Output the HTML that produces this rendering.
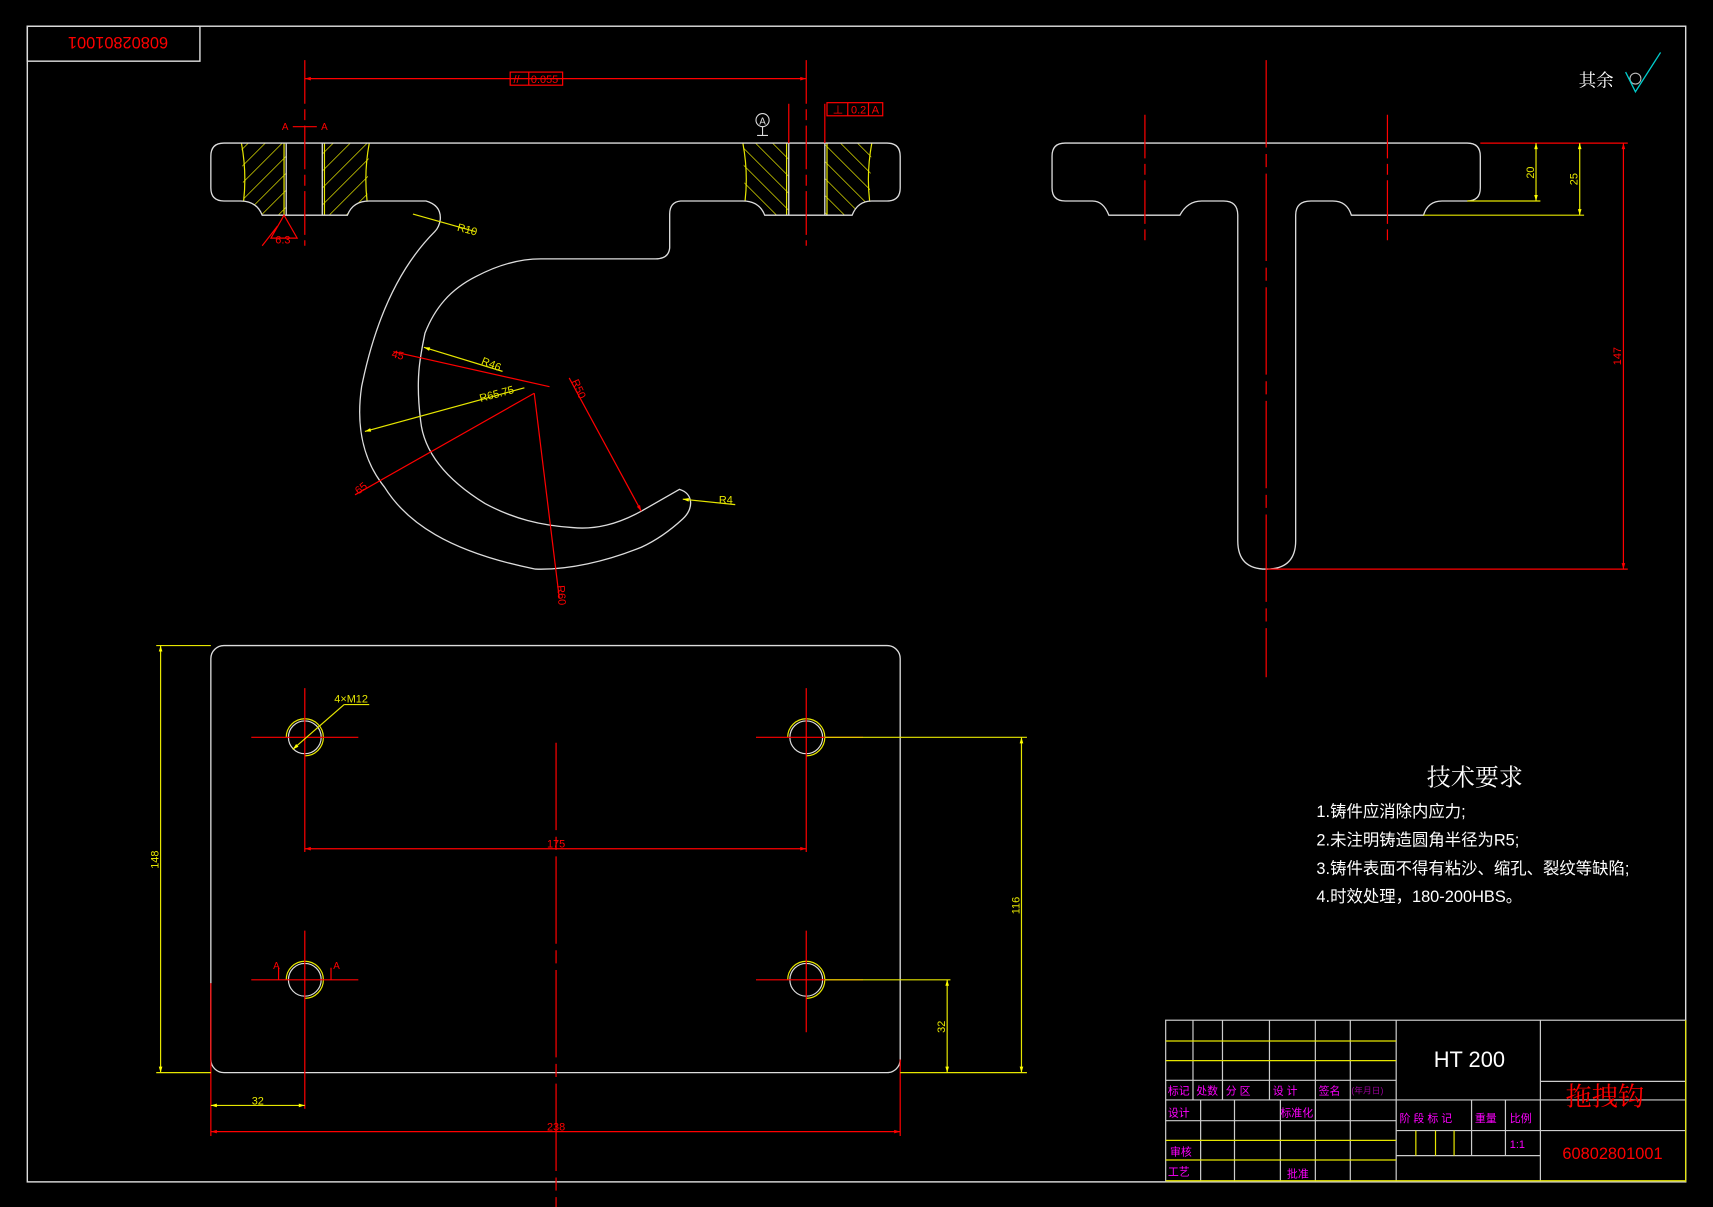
<!DOCTYPE html>
<html><head><meta charset="utf-8"><style>
html,body{margin:0;padding:0;background:#000;}
svg{display:block;}
text{font-family:"Liberation Sans","Noto Sans CJK SC",sans-serif;}
.cjk{font-family:"Noto Serif CJK SC","Noto Sans CJK SC",serif;}
</style></head><body>
<svg width="1713" height="1207" viewBox="0 0 1568 1105" preserveAspectRatio="none" xmlns="http://www.w3.org/2000/svg">
<defs>
<pattern id="h1" patternUnits="userSpaceOnUse" width="11" height="11" patternTransform="rotate(45)"><line x1="0" y1="0" x2="0" y2="11" stroke="#e6e600" stroke-width="1.3"/></pattern>
<pattern id="h2" patternUnits="userSpaceOnUse" width="11" height="11" patternTransform="rotate(-45)"><line x1="0" y1="0" x2="0" y2="11" stroke="#e6e600" stroke-width="1.3"/></pattern>
<marker id="ar" viewBox="0 0 10 10" refX="10" refY="5" markerWidth="7" markerHeight="5" orient="auto-start-reverse"><path d="M0,2 L10,5 L0,8z" fill="#f00"/></marker>
<marker id="ay" viewBox="0 0 10 10" refX="10" refY="5" markerWidth="7" markerHeight="5" orient="auto-start-reverse"><path d="M0,2 L10,5 L0,8z" fill="#ff0"/></marker>
</defs>
<rect width="1568" height="1105" fill="#000"/>
<!-- frame -->
<rect x="25" y="24" width="1518" height="1058" fill="none" stroke="#ddd" stroke-width="1.3"/>
<rect x="25" y="24" width="158" height="32" fill="none" stroke="#ddd" stroke-width="1.3"/>
<text x="108" y="46" fill="#f00" font-size="15" text-anchor="middle" font-family="Liberation Serif" transform="rotate(180 108 40)">60802801001</text>

<!-- TOP VIEW hatch -->
<path d="M221,131 L262,131 L262,197 L240,197 Q235,186 223,184 Z" fill="url(#h1)"/>
<path d="M295,131 L338,131 L336,184 Q323,186 318,197 L295,197 Z" fill="url(#h1)"/>
<path d="M680,131 L722,131 L722,197 L700,197 Q695,186 682,184 Z" fill="url(#h2)"/>
<path d="M755,131 L798,131 L796,184 Q785,186 780,197 L755,197 Z" fill="url(#h2)"/>
<g stroke="#e6e600" stroke-width="1.1" fill="none">
<path d="M221,131 Q226,158 223,184 M338,131 Q333,158 336,184 M680,131 Q685,158 682,184 M798,131 Q793,158 796,184"/>
<line x1="260" y1="131" x2="260" y2="197"/><line x1="297" y1="131" x2="297" y2="197"/>
<line x1="720" y1="131" x2="720" y2="197"/><line x1="757" y1="131" x2="757" y2="197"/>
</g>
<path d="M205,131 L812,131 Q824,131 824,143 L824,172 Q824,184 812,184 L798,184 Q785,184 780,197 L700,197 Q695,184 680,184 L623,184 Q613,185 613,196 L613,227 Q612,237 600,237 L495,237 C475,237 455,243 436,253 C412,265 398,282 389,305 C385,325 380,345 385,385 C388,415 410,440 444,461 C470,475 495,481 524,483 C545,485 565,480 587,468 L622,448 C635,452 635,466 625,475 C612,487 600,495 587,501 C555,514 520,522 490,521 C410,505 372,478 352,446 C335,425 325,395 331,354 C345,285 370,240 398,212 Q402,208 403,201 Q404,188 390,184 L338,184 Q323,184 318,197 L240,197 Q235,184 220,184 L205,184 Q193,184 193,172 L193,143 Q193,131 205,131 Z" fill="none" stroke="#ddd" stroke-width="1.2"/>
<path d="M262,131 L262,197 M295,131 L295,197 M722,131 L722,197 M755,131 L755,197" stroke="#ddd" stroke-width="1.2"/>
<!-- top view centerlines and dims -->
<g stroke="#f00" stroke-width="1.1" fill="none">
<line x1="279" y1="55" x2="279" y2="225" stroke-dasharray="40,5,10,5"/>
<line x1="738" y1="55" x2="738" y2="225" stroke-dasharray="40,5,10,5"/>
<line x1="722" y1="95" x2="722" y2="131"/><line x1="755" y1="95" x2="755" y2="131"/>
<line x1="279" y1="72" x2="738" y2="72" marker-start="url(#ar)" marker-end="url(#ar)"/>
<rect x="467" y="66" width="48" height="12"/><line x1="484" y1="66" x2="484" y2="78"/>
<rect x="757" y="94" width="51" height="12"/><line x1="776" y1="94" x2="776" y2="106"/><line x1="795" y1="94" x2="795" y2="106"/>
<line x1="268" y1="116" x2="290" y2="116"/>
<path d="M260,197 L248,218 L272,218 Z M254,207 L240,225"/>
<line x1="503" y1="354" x2="360" y2="322"/>
<line x1="489" y1="360" x2="325" y2="453"/>
<line x1="489" y1="360" x2="512" y2="548"/>
<line x1="521" y1="346" x2="587" y2="468" marker-end="url(#ar)"/>
</g>
<text x="470" y="76" fill="#f00" font-size="10">//</text><text x="486" y="76" fill="#f00" font-size="10">0.055</text>
<text x="762" y="104" fill="#f00" font-size="10">⊥</text><text x="779" y="104" fill="#f00" font-size="10">0.2</text><text x="798" y="104" fill="#f00" font-size="10">A</text>
<text x="258" y="119" fill="#f00" font-size="9">A</text><text x="294" y="119" fill="#f00" font-size="9">A</text>
<text x="252" y="223" fill="#f00" font-size="10">6.3</text>
<circle cx="698" cy="110" r="6" fill="none" stroke="#ddd"/><text x="695" y="114" fill="#ddd" font-size="9">A</text><line x1="698" y1="116" x2="698" y2="124" stroke="#ddd"/><line x1="693" y1="124" x2="703" y2="124" stroke="#ddd"/>
<g stroke="#e6e600" stroke-width="1.1" fill="none">
<line x1="378" y1="196" x2="435" y2="212"/><line x1="388" y1="318" x2="460" y2="340" marker-start="url(#ay)"/><line x1="334" y1="395" x2="480" y2="355" marker-start="url(#ay)"/><line x1="625" y1="457" x2="673" y2="462" marker-start="url(#ay)"/>
</g>
<text x="418" y="211" fill="#e6e600" font-size="10" transform="rotate(15 418 211)">R10</text>
<text x="440" y="333" fill="#e6e600" font-size="10" transform="rotate(22 440 333)">R46</text>
<text x="440" y="368" fill="#e6e600" font-size="10" transform="rotate(-15 440 368)">R65.75</text>
<text x="658" y="461" fill="#e6e600" font-size="10">R4</text>
<text x="358" y="327" fill="#f00" font-size="10" transform="rotate(13 358 327)">45</text>
<text x="328" y="453" fill="#f00" font-size="10" transform="rotate(-37 328 453)">65</text>
<text x="523" y="349" fill="#f00" font-size="10" transform="rotate(66 523 349)">R50</text>
<text x="510" y="536" fill="#f00" font-size="10" transform="rotate(86 510 536)">R60</text>

<!-- SIDE VIEW -->
<path d="M975,131 L1343,131 Q1355,131 1355,143 L1355,172 Q1355,184 1343,184 L1320,184 Q1307,184 1303,197 L1237,197 Q1233,184 1220,184 L1200,184 Q1186,184 1186,197 L1186,495 Q1186,521 1159,521 Q1133,521 1133,495 L1133,197 Q1133,184 1120,184 L1100,184 Q1087,184 1080,197 L1015,197 Q1010,184 1000,184 L975,184 Q963,184 963,172 L963,143 Q963,131 975,131Z" fill="none" stroke="#ddd" stroke-width="1.2"/>
<g stroke="#f00" stroke-width="1.1" fill="none">
<line x1="1048" y1="105" x2="1048" y2="225" stroke-dasharray="40,5,10,5"/>
<line x1="1270" y1="105" x2="1270" y2="225" stroke-dasharray="40,5,10,5"/>
<line x1="1159" y1="55" x2="1159" y2="620" stroke-dasharray="80,6,12,6"/>
<line x1="1355" y1="131" x2="1490" y2="131"/><line x1="1160" y1="521" x2="1490" y2="521"/>
<line x1="1486" y1="131" x2="1486" y2="521" marker-start="url(#ar)" marker-end="url(#ar)"/>
</g>
<g stroke="#e6e600" stroke-width="1.1">
<line x1="1343" y1="184" x2="1410" y2="184"/><line x1="1303" y1="197" x2="1450" y2="197"/>
<line x1="1406" y1="131" x2="1406" y2="184" marker-start="url(#ay)" marker-end="url(#ay)"/>
<line x1="1446" y1="131" x2="1446" y2="197" marker-start="url(#ay)" marker-end="url(#ay)"/>
</g>
<text x="1404" y="158" fill="#e6e600" font-size="10" transform="rotate(-90 1404 158)" text-anchor="middle">20</text>
<text x="1444" y="164" fill="#e6e600" font-size="10" transform="rotate(-90 1444 164)" text-anchor="middle">25</text>
<text x="1484" y="326" fill="#f00" font-size="10" transform="rotate(-90 1484 326)" text-anchor="middle">147</text>
<text x="1445" y="79" fill="#fff" font-size="16" class="cjk">其余</text>
<circle cx="1497" cy="72" r="5" fill="none" stroke="#bbb"/>
<path d="M1488,66 L1497,84 L1520,48" fill="none" stroke="#0cc" stroke-width="1.2"/>

<!-- PLAN VIEW -->
<rect x="193" y="591" width="631" height="391" rx="12" fill="none" stroke="#ddd" stroke-width="1.2"/>
<g fill="none" stroke-width="1.1">
<g stroke="#ddd"><circle cx="279" cy="675" r="15"/><circle cx="738" cy="675" r="15"/><circle cx="279" cy="897" r="15"/><circle cx="738" cy="897" r="15"/></g>
<g stroke="#e6e600"><path d="M262,675 A17,17 0 1,1 279,692 M721,675 A17,17 0 1,1 738,692 M262,897 A17,17 0 1,1 279,914 M721,897 A17,17 0 1,1 738,914"/></g>
<g stroke="#f00">
<line x1="230" y1="675" x2="328" y2="675"/><line x1="279" y1="630" x2="279" y2="780"/>
<line x1="692" y1="675" x2="790" y2="675"/><line x1="738" y1="630" x2="738" y2="780"/>
<line x1="230" y1="897" x2="328" y2="897"/><line x1="279" y1="852" x2="279" y2="1015"/>
<line x1="692" y1="897" x2="790" y2="897"/><line x1="738" y1="852" x2="738" y2="945"/>
<line x1="509" y1="680" x2="509" y2="1105" stroke-dasharray="80,6,12,6"/>
<line x1="279" y1="777" x2="738" y2="777" marker-start="url(#ar)" marker-end="url(#ar)"/>
<line x1="193" y1="900" x2="193" y2="1040"/><line x1="824" y1="970" x2="824" y2="1040"/>
<line x1="193" y1="1036" x2="824" y2="1036" marker-start="url(#ar)" marker-end="url(#ar)"/>
<path d="M255,897 L255,886 M303,897 L303,886"/>
</g>
<g stroke="#e6e600">
<line x1="143" y1="591" x2="193" y2="591"/><line x1="143" y1="982" x2="193" y2="982"/>
<line x1="147" y1="591" x2="147" y2="982" marker-start="url(#ay)" marker-end="url(#ay)"/>
<line x1="755" y1="675" x2="940" y2="675"/><line x1="824" y1="982" x2="940" y2="982"/>
<line x1="935" y1="675" x2="935" y2="982" marker-start="url(#ay)" marker-end="url(#ay)"/>
<line x1="755" y1="897" x2="870" y2="897"/>
<line x1="867" y1="897" x2="867" y2="982" marker-start="url(#ay)" marker-end="url(#ay)"/>
<line x1="193" y1="1012" x2="279" y2="1012" marker-start="url(#ay)" marker-end="url(#ay)"/>
<line x1="268" y1="686" x2="315" y2="645" marker-start="url(#ay)"/><line x1="315" y1="645" x2="338" y2="645"/>
</g>
</g>
<text x="509" y="776" fill="#f00" font-size="10" text-anchor="middle">175</text>
<text x="509" y="1035" fill="#f00" font-size="10" text-anchor="middle">238</text>
<text x="236" y="1011" fill="#e6e600" font-size="10" text-anchor="middle">32</text>
<text x="145" y="787" fill="#e6e600" font-size="10" transform="rotate(-90 145 787)" text-anchor="middle">148</text>
<text x="933" y="829" fill="#e6e600" font-size="10" transform="rotate(-90 933 829)" text-anchor="middle">116</text>
<text x="865" y="940" fill="#e6e600" font-size="10" transform="rotate(-90 865 940)" text-anchor="middle">32</text>
<text x="306" y="643" fill="#e6e600" font-size="10">4×M12</text>
<text x="250" y="887" fill="#f00" font-size="9">A</text><text x="305" y="887" fill="#f00" font-size="9">A</text>

<!-- tech requirements -->
<text x="1350" y="719" fill="#fff" font-size="22" class="cjk" text-anchor="middle">技术要求</text>
<g fill="#fff" font-size="15" class="cjk">
<text x="1205" y="748">1.铸件应消除内应力;</text>
<text x="1205" y="774">2.未注明铸造圆角半径为R5;</text>
<text x="1205" y="800">3.铸件表面不得有粘沙、缩孔、裂纹等缺陷;</text>
<text x="1205" y="826">4.时效处理，180-200HBS。</text>
</g>

<!-- title block -->
<g fill="none" stroke-width="1.1">
<g stroke="#ccc">
<rect x="1067" y="934" width="476" height="148"/>
<line x1="1067" y1="989" x2="1278" y2="989"/><line x1="1067" y1="1007" x2="1543" y2="1007"/>
<line x1="1067" y1="1026" x2="1278" y2="1026"/>
<line x1="1092" y1="934" x2="1092" y2="1007"/><line x1="1119" y1="934" x2="1119" y2="1007"/><line x1="1162" y1="934" x2="1162" y2="1007"/>
<line x1="1204" y1="934" x2="1204" y2="1082"/><line x1="1236" y1="934" x2="1236" y2="1082"/><line x1="1278" y1="934" x2="1278" y2="1082"/>
<line x1="1099" y1="1007" x2="1099" y2="1082"/><line x1="1130" y1="1007" x2="1130" y2="1082"/><line x1="1172" y1="1007" x2="1172" y2="1082"/>
<line x1="1410" y1="934" x2="1410" y2="1082"/>
<line x1="1410" y1="990" x2="1543" y2="990"/><line x1="1278" y1="1035" x2="1543" y2="1035"/><line x1="1278" y1="1058" x2="1410" y2="1058"/>
<line x1="1347" y1="1007" x2="1347" y2="1058"/><line x1="1378" y1="1007" x2="1378" y2="1058"/>
</g>
<g stroke="#e6e600">
<line x1="1067" y1="953" x2="1278" y2="953"/><line x1="1067" y1="971" x2="1278" y2="971"/>
<line x1="1067" y1="1044" x2="1278" y2="1044"/><line x1="1067" y1="1062" x2="1278" y2="1062"/>
<line x1="1067" y1="1081" x2="1543" y2="1081"/><line x1="1543" y1="934" x2="1543" y2="1082"/>
<line x1="1296" y1="1035" x2="1296" y2="1058"/><line x1="1314" y1="1035" x2="1314" y2="1058"/><line x1="1331" y1="1035" x2="1331" y2="1058"/>
</g>
</g>
<g fill="#f0f" font-size="10" class="cjk">
<text x="1069" y="1002">标记</text><text x="1095" y="1002">处数</text><text x="1122" y="1002">分  区</text><text x="1165" y="1002">设  计</text><text x="1207" y="1002">签名</text><text x="1237" y="1001" font-size="8" fill="#909">(年月日)</text>
<text x="1069" y="1022">设计</text><text x="1172" y="1022">标准化</text>
<text x="1071" y="1058">审核</text><text x="1069" y="1076">工艺</text><text x="1178" y="1078">批准</text>
<text x="1281" y="1027">阶 段 标 记</text><text x="1350" y="1027">重量</text><text x="1382" y="1027">比例</text>
<text x="1382" y="1051">1:1</text>
</g>
<text x="1345" y="977" fill="#fff" font-size="20" text-anchor="middle" font-family="Liberation Serif">HT 200</text>
<text x="1469" y="1012" fill="#f00" font-size="24" text-anchor="middle" class="cjk">拖拽钩</text>
<text x="1476" y="1061" fill="#f00" font-size="15" text-anchor="middle" font-family="Liberation Serif">60802801001</text>
</svg>
</body></html>
